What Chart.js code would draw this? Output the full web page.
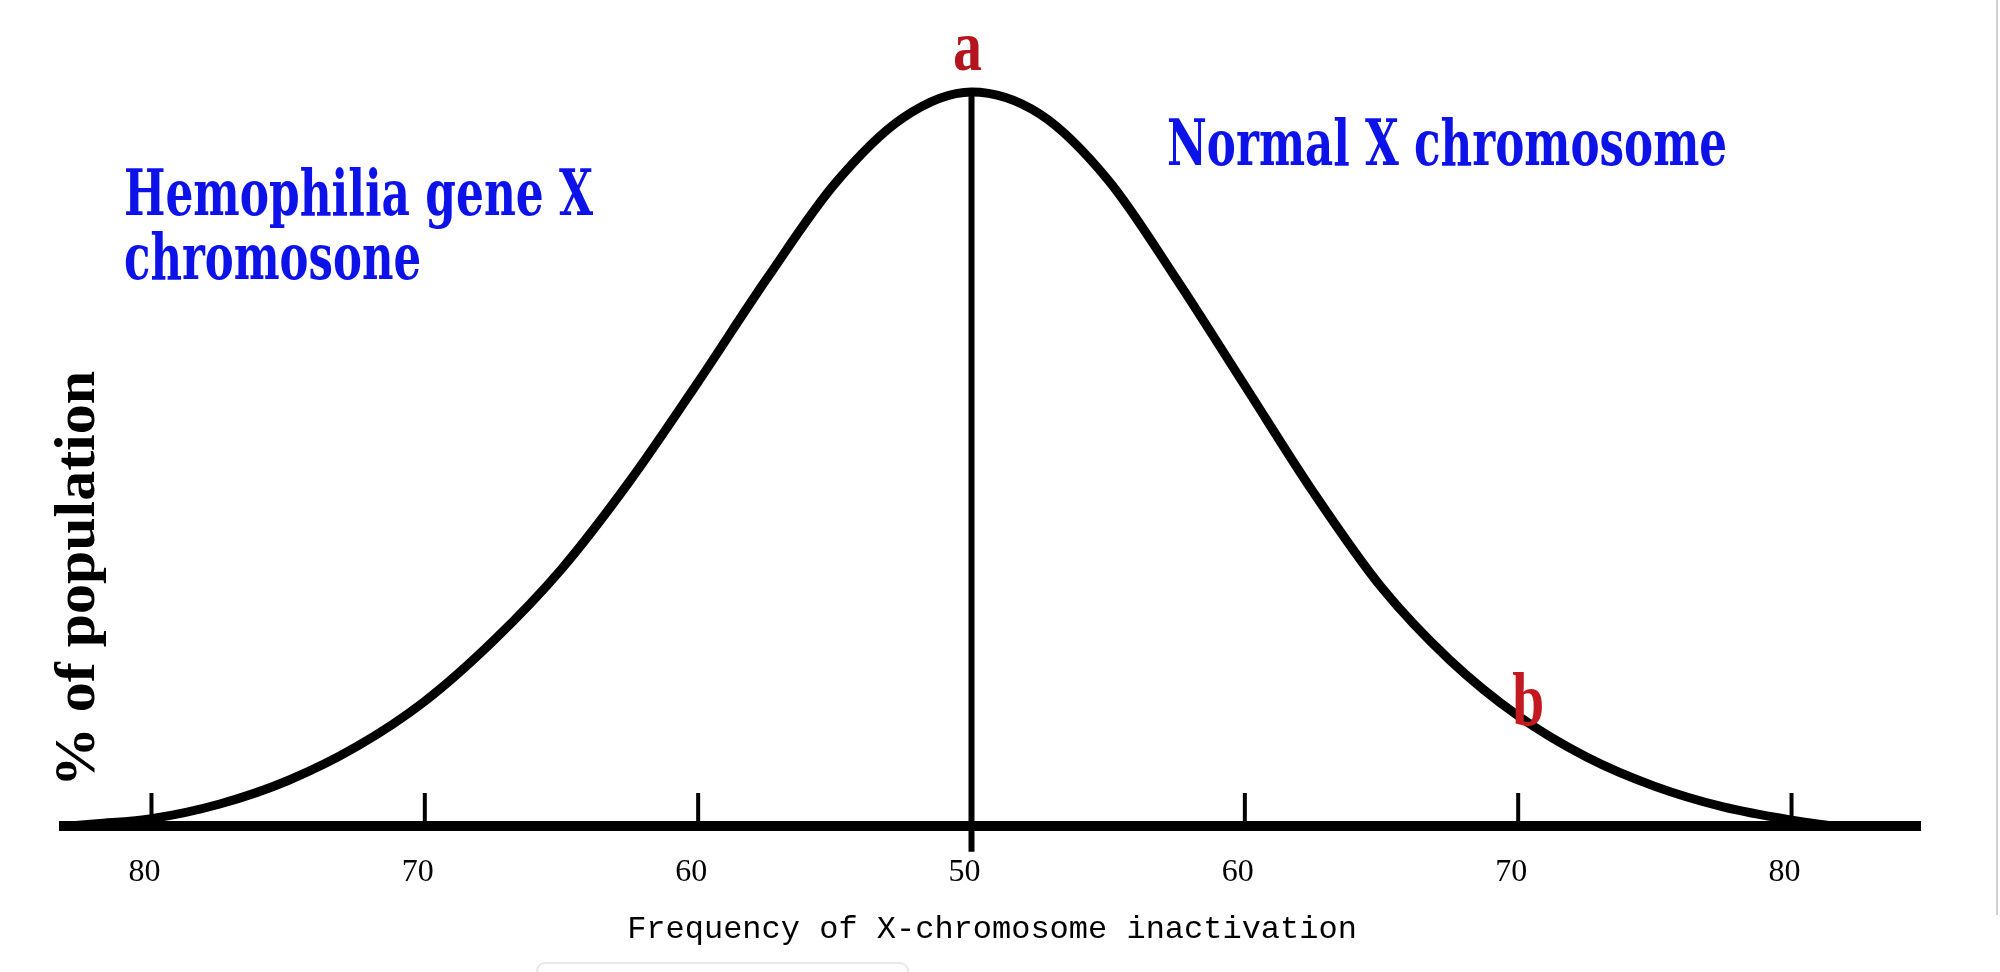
<!DOCTYPE html>
<html>
<head>
<meta charset="utf-8">
<title>X-chromosome inactivation</title>
<script src="https://cdn.jsdelivr.net/npm/chart.js@4.4.0/dist/chart.umd.min.js"></script>
<style>
  body { margin: 0; background: #fff; }
  canvas { display: block; }
</style>
</head>
<body>
<canvas id="myChart" width="2000" height="972"></canvas>
<script>
// x = distance from 50% (left side = hemophilia X inactive, right side = normal X)
const curveX = [-33, -32, -30, -27.5, -25, -22.5, -20, -17.5, -15, -12.5, -10,
  -7.5, -5, -2.5, 0, 2.5, 5, 7.5, 10, 12.5, 15, 17.5, 20, 22.5,
  25, 27.5, 30, 31.5];
const curveY = [0, 0.3, 1.0, 3.0, 6.2, 10.8, 17.0, 25.2, 35.0, 47.0, 60.5,
  74.5, 87.5, 96.5, 100, 97.0, 88.0, 74.5, 60.0, 45.5, 32.5, 22.6, 15.0, 9.4,
  5.4, 2.6, 0.8, 0];

const centerX = [0, 0];
const centerY = [-3.5, 100];

const tickValues = [-30, -20, -10, 0, 10, 20, 30];
const tickLabels = ["80", "70", "60", "50", "60", "70", "80"];

const markA = { x: 0, y: 100, text: "a" };
const markB = { x: 20, y: 15.0, text: "b" };

function fitText(ctx, text, x, y, width, font, color, align) {
  ctx.save();
  ctx.font = font;
  ctx.fillStyle = color;
  ctx.textBaseline = "alphabetic";
  ctx.textAlign = "left";
  let w = ctx.measureText(text).width;
  let sx = width / w;
  let left = align === "center" ? x - width / 2 : x;
  ctx.translate(left, y);
  ctx.scale(sx, 1);
  ctx.fillText(text, 0, 0);
  ctx.restore();
}

const extras = {
  id: "extras",
  afterDraw(chart) {
    let ctx = chart.ctx;
    let xs = chart.scales.x;
    let ys = chart.scales.y;
    let base = chart.chartArea.bottom;

    // tick marks pointing up from the axis
    ctx.save();
    ctx.strokeStyle = "#000";
    ctx.lineWidth = 4;
    tickValues.forEach((v) => {
      let px = xs.getPixelForValue(v);
      ctx.beginPath();
      ctx.moveTo(px, base);
      ctx.lineTo(px, base - 33);
      ctx.stroke();
    });
    ctx.restore();

    // red point labels
    let ax = xs.getPixelForValue(markA.x);
    let ay = ys.getPixelForValue(markA.y);
    fitText(ctx, markA.text, ax - 4, ay - 22, 29, "bold 72px 'Liberation Serif'", "#b3141d", "center");
    let bx = xs.getPixelForValue(markB.x);
    let by = ys.getPixelForValue(markB.y);
    fitText(ctx, markB.text, bx - 6, by + 9, 32, "bold 76px 'Liberation Serif'", "#c21a1f", "left");

    // blue annotations
    let blueFont = "bold 64px 'DejaVu Serif Condensed', 'DejaVu Serif', serif";
    fitText(ctx, "Hemophilia gene X", 124, 215, 469, blueFont, "#0d12e8", "left");
    fitText(ctx, "chromosone", 124, 279, 297, blueFont, "#0d12e8", "left");
    fitText(ctx, "Normal X chromosome", 1167, 165, 560, blueFont, "#0d12e8", "left");

    // y-axis title
    ctx.save();
    ctx.translate(94, 579);
    ctx.rotate(-Math.PI / 2);
    fitText(ctx, "% of population", 0, 0, 416, "bold 58px 'Liberation Serif'", "#000", "center");
    ctx.restore();

    // screenshot edge line and faint box
    ctx.save();
    ctx.strokeStyle = "#d0d0d0";
    ctx.lineWidth = 2;
    ctx.beginPath();
    ctx.moveTo(1997, 0);
    ctx.lineTo(1997, 915);
    ctx.stroke();
    ctx.strokeStyle = "#e8e8e8";
    ctx.beginPath();
    ctx.roundRect(537, 963, 371, 30, 8);
    ctx.stroke();
    ctx.restore();
  },
};

new Chart("myChart", {
  type: "line",
  data: {
    datasets: [
      {
        data: curveX.map((x, i) => ({ x: x, y: curveY[i] })),
        borderColor: "#000",
        borderWidth: 9,
        pointRadius: 0,
        cubicInterpolationMode: "monotone",
        fill: false,
        clip: false,
      },
      {
        data: centerX.map((x, i) => ({ x: x, y: centerY[i] })),
        borderColor: "#000",
        borderWidth: 6,
        pointRadius: 0,
        fill: false,
        clip: false,
      },
    ],
  },
  options: {
    responsive: false,
    animation: false,
    layout: { padding: { left: 64, right: 80, top: 92, bottom: 26 } },
    plugins: {
      legend: { display: false },
      tooltip: { enabled: false },
    },
    scales: {
      x: {
        type: "linear",
        min: -33.2,
        max: 34.7,
        afterBuildTicks: (scale) => {
          scale.ticks = tickValues.map((v) => ({ value: v }));
        },
        grid: { drawOnChartArea: false, drawTicks: false },
        border: { display: true, color: "#000", width: 10 },
        ticks: {
          autoSkip: false,
          maxRotation: 0,
          padding: 31,
          labelOffset: -7,
          color: "#000",
          font: { family: "'Liberation Serif'", size: 32, lineHeight: 1 },
          callback: (v) => tickLabels[tickValues.indexOf(v)],
        },
        title: {
          display: true,
          text: "Frequency of X-chromosome inactivation",
          color: "#000",
          font: { family: "'Liberation Mono'", size: 32, lineHeight: 1 },
          padding: { top: -6, bottom: 0 },
        },
      },
      y: {
        display: false,
        min: 0,
        max: 100,
      },
    },
  },
  plugins: [extras],
});
</script>
</body>
</html>
